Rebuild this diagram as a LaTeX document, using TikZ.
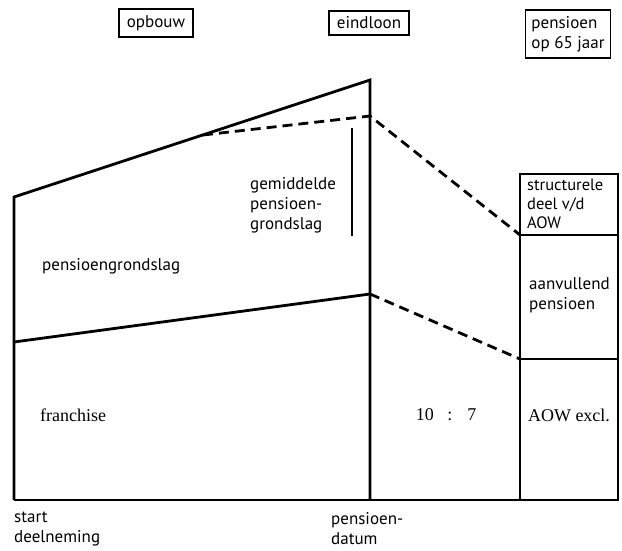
\documentclass[tikz,border=0pt]{standalone}
\usepackage{fontspec}
\setmainfont{PT Sans}
\newfontfamily\tnr{Liberation Serif}
\usetikzlibrary{positioning}

\begin{document}
\begin{tikzpicture}[
                x=1pt, y=-1pt,
                line join=miter,
                headbox/.style={draw=black, line width=1.8pt, inner xsep=8pt, inner ysep=6pt, font=\fontsize{17}{20}\selectfont, align=left},
                plainlabel/.style={inner sep=0pt, anchor=west, font=\fontsize{17}{20}\selectfont, align=left},
                seriflabel/.style={inner sep=0pt, font=\tnr\fontsize{18}{20}\selectfont},
                thickline/.style={line width=2.8pt},
                dashline/.style={line width=2.8pt, dash pattern=on 10pt off 6pt}
                ]
                \useasboundingbox (0,0) rectangle (622,550);

                %% Points
                \coordinate (sTop) at (14,197);
                \coordinate (sFr) at (14,342);
                \coordinate (sBase) at (14,500);
                \coordinate (eTop) at (370,80);
                \coordinate (eGem) at (370,116);
                \coordinate (eFr) at (370,294);
                \coordinate (eBase) at (370,500);
                \coordinate (gStart) at (203,135);
                \coordinate (bTL) at (520,174);
                \coordinate (bML) at (520,235);
                \coordinate (bMR) at (618,235);
                \coordinate (bLL) at (520,359);
                \coordinate (bLR) at (618,359);
                \coordinate (bBR) at (618,500);
                \coordinate (brTop) at (352,128);
                \coordinate (brBot) at (352,236);

                %% Draws
                \draw[thickline] (sBase) -- (sTop) -- (eTop) -- (eBase);
                \draw[thickline] (sFr) -- (eFr);
                \draw[thickline] (sBase) -- (bBR);
                \draw[thickline] (bTL) rectangle (bBR);
                \draw[thickline] (bML) -- (bMR);
                \draw[thickline] (bLL) -- (bLR);
                \draw[line width=1.6pt] (brTop) -- (brBot);

                \draw[dashline] (gStart) -- (eGem) -- (bML);
                \draw[dashline] (eFr) -- (bLL);

                %% Headers
                \node[headbox] (opbouw) at (156,23) {opbouw};
                \node[headbox] (eindloon) at (369,23) {eindloon};
                \node[headbox, inner xsep=6pt] (pensioen) at (568,34) {pensioen\\op 65 jaar};

                %% Labels
                \node[plainlabel] (gemiddeld) at (250,205) {gemiddelde\\pensioen-\\grondslag};
                \node[plainlabel] (grondslag) at (42,266) {pensioengrondslag};
                \node[seriflabel, anchor=west] (franchise) at (40,415) {franchise};
                \node[seriflabel] (ratio) at (446,415) {10 \ \ : \ \ 7};
                \node[seriflabel] (aowexcl) at (569,415) {AOW excl.};
                \node[plainlabel] (aanvullend) at (529,295) {aanvullend\\pensioen};
                \node[plainlabel, font=\fontsize{16.5}{19}\selectfont] (structureel) at (527,204) {structurele\\deel v/d\\AOW};
                \node[plainlabel, font=\fontsize{17}{20}\selectfont] (start) at (14,529) {start\\deelneming};
                \node[plainlabel, font=\fontsize{17}{20}\selectfont] (datum) at (331,529) {pensioen-\\datum};
\end{tikzpicture}
\end{document}
